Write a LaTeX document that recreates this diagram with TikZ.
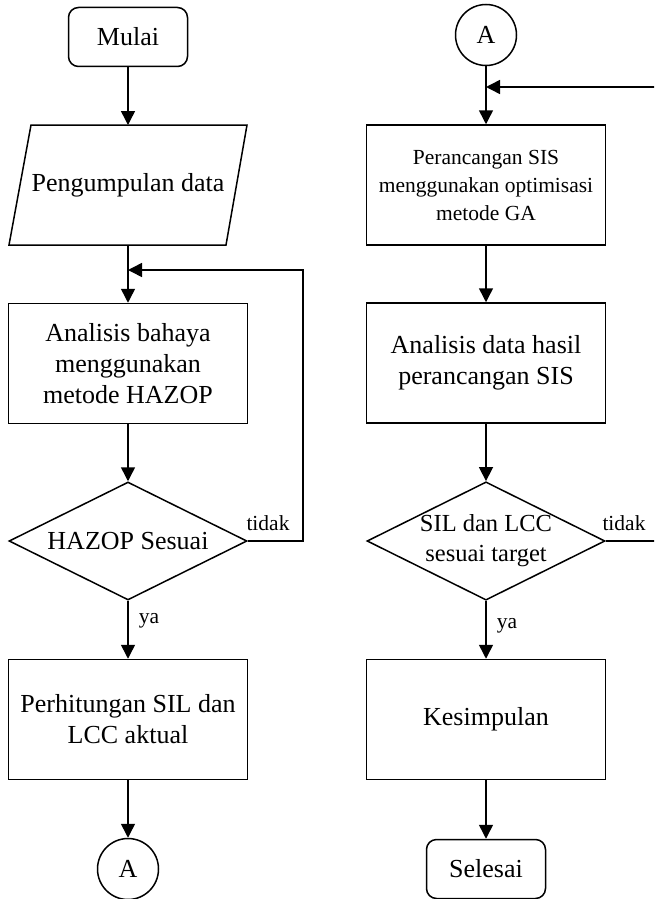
\documentclass[tikz,border=0pt]{standalone}
\usepackage{fontspec}
\setmainfont{Liberation Serif}
\usetikzlibrary{shapes.geometric,arrows.meta}
\begin{document}
\begin{tikzpicture}[x=1pt,y=-1pt,line width=1.5pt,
  big/.style={font=\fontsize{26}{31}\selectfont},
  boxnode/.style={draw,rectangle,minimum width=239pt,minimum height=120pt,inner sep=0pt,align=center,big},
  termnode/.style={draw,rectangle,rounded corners=10pt,minimum width=119pt,minimum height=59pt,inner sep=0pt,big},
  dianode/.style={draw,diamond,aspect=2,minimum width=238pt,minimum height=118pt,inner sep=0pt,align=center,big},
  connode/.style={draw,circle,minimum size=61pt,inner sep=0pt,big},
  plainnode/.style={inner sep=0pt,align=center,big},
  lbl/.style={inner sep=0pt,font=\fontsize{21.5}{24}\selectfont},
  arr/.style={-{Triangle[length=14pt,width=14pt]}}
]
\clip (0,0) rectangle (654,899);
% left column
\node[termnode] (mulai) at (128,37) {Mulai};
\node[plainnode,minimum width=238pt,minimum height=120pt] (pd) at (128,185) {Pengumpulan data};
\draw (31,125) -- (247,125) -- (226,245) -- (9,245) -- cycle;
\node[boxnode] (ana) at (128,363.5) {Analisis bahaya\\menggunakan\\metode HAZOP};
\node[dianode] (hz) at (128,541) {HAZOP Sesuai};
\node[boxnode] (hit) at (128,719.5) {Perhitungan SIL dan\\LCC aktual};
\node[connode] (a1) at (128,869) {A};
% right column
\node[connode] (a2) at (486,35) {A};
\node[boxnode,font=\fontsize{21.5}{28}\selectfont] (per) at (486,185) {Perancangan SIS\\menggunakan optimisasi\\metode GA};
\node[boxnode] (ad) at (486,363) {Analisis data hasil\\perancangan SIS};
\node[dianode,font=\fontsize{24.5}{30}\selectfont] (sil) at (486,541) {SIL dan LCC\\sesuai target};
\node[boxnode] (kes) at (486,719.5) {Kesimpulan};
\node[termnode] (sel) at (486,869) {Selesai};
% junctions
\coordinate (pdb) at (128,245);
\coordinate (j1) at (128,270);
\coordinate (fbL) at (303,270);
\coordinate (j2) at (486,87);
\coordinate (fbR) at (662,87);
% connectors left
\draw[arr] (mulai) -- (pdb |- 0,125);
\draw[arr] (pdb) -- (ana);
\draw[arr] (ana) -- (hz);
\draw[arr] (hz) -- (hit);
\draw[arr] (hit) -- (a1);
\draw[arr] (hz.east) -| (fbL) -- (j1);
% connectors right
\draw[arr] (a2) -- (per);
\draw[arr] (per) -- (ad);
\draw[arr] (ad) -- (sil);
\draw[arr] (sil) -- (kes);
\draw[arr] (kes) -- (sel);
\draw[arr] (sil.east) -| (fbR) -- (j2);
% labels
\node[lbl] (t1) at (268,523) {tidak};
\node[lbl] (t2) at (624,523) {tidak};
\node[lbl] (y1) at (149,621) {ya};
\node[lbl] (y2) at (507,626) {ya};
\end{tikzpicture}
\end{document}
